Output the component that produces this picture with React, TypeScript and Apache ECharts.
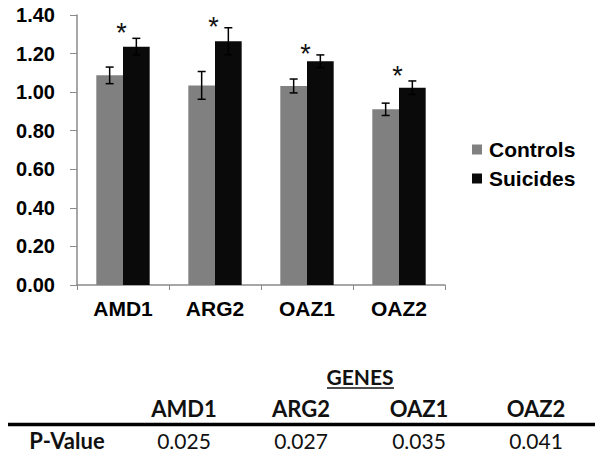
import React, { useEffect, useRef } from "react";
import * as echarts from "echarts";

const genes = ["AMD1", "ARG2", "OAZ1", "OAZ2"];
const controls = [1.087, 1.035, 1.032, 0.911];
const controlsErr = [0.043, 0.072, 0.036, 0.032];
const suicides = [1.236, 1.264, 1.16, 1.023];
const suicidesErr = [0.043, 0.07, 0.033, 0.035];
const starLevel = [1.343, 1.374, 1.236, 1.12];
const pValues = ["0.025", "0.027", "0.035", "0.041"];
const yTicks = [0, 0.2, 0.4, 0.6, 0.8, 1.0, 1.2, 1.4];

const CAT_GAP = 0.42;

export default function App() {
  const ref = useRef<HTMLDivElement>(null);
  useEffect(() => {
    if (!ref.current) return;
    const chart = echarts.init(ref.current, null, { renderer: "svg" });
    const axisColor = "#8a8a8a";
    const font = "'Liberation Sans', Arial, sans-serif";
    const tfont = "Lato, 'Open Sans', sans-serif";

    const errData = genes.map((g, i) => [i, controls[i], controlsErr[i], suicides[i], suicidesErr[i], starLevel[i]]);

    const headerX = [184, 301, 419, 536];
    const graphics: any[] = [];
    graphics.push({
      type: "text",
      x: 360,
      y: 376,
      style: { text: "GENES", font: `bold 21px ${tfont}`, fill: "#111", textAlign: "center", textVerticalAlign: "middle" },
    });
    graphics.push({
      type: "line",
      shape: { x1: 327, y1: 388, x2: 394, y2: 388 },
      style: { stroke: "#111", lineWidth: 1.5 },
    });
    genes.forEach((g, i) => {
      graphics.push({
        type: "text",
        x: headerX[i],
        y: 408,
        style: { text: g, font: `bold 22px ${tfont}`, fill: "#111", textAlign: "center", textVerticalAlign: "middle" },
      });
      graphics.push({
        type: "text",
        x: headerX[i],
        y: 440,
        style: { text: pValues[i], font: `21px ${tfont}`, fill: "#111", textAlign: "center", textVerticalAlign: "middle" },
      });
    });
    graphics.push({
      type: "line",
      shape: { x1: 8, y1: 424.5, x2: 595, y2: 424.5 },
      style: { stroke: "#000", lineWidth: 3.5 },
    });
    graphics.push({
      type: "text",
      x: 67,
      y: 440,
      style: { text: "P-Value", font: `bold 22px ${tfont}`, fill: "#111", textAlign: "center", textVerticalAlign: "middle" },
    });

    chart.setOption({
      animation: false,
      backgroundColor: "#fff",
      grid: { left: 77, right: 159, top: 15, bottom: 176 },
      legend: {
        orient: "vertical",
        left: 472,
        top: 139,
        padding: 0,
        itemWidth: 10,
        itemHeight: 10,
        itemGap: 8,
        icon: "rect",
        data: ["Controls", "Suicides"],
        textStyle: { fontFamily: font, fontWeight: "bold", fontSize: 21, color: "#000", padding: [0, 0, 0, 2] },
      },
      xAxis: {
        type: "category",
        data: genes,
        axisLine: { lineStyle: { color: axisColor, width: 1.5 } },
        axisTick: { show: true, length: 5, lineStyle: { color: axisColor } },
        axisLabel: { fontFamily: font, fontWeight: "bold", fontSize: 21, color: "#000", margin: 13 },
      },
      yAxis: {
        type: "value",
        min: 0,
        max: 1.4,
        interval: 0.2,
        splitLine: { show: false },
        axisLine: { show: true, lineStyle: { color: axisColor, width: 1.5 } },
        axisTick: { show: true, length: 7, lineStyle: { color: axisColor } },
        axisLabel: {
          fontFamily: font,
          fontWeight: "bold",
          fontSize: 20,
          color: "#000",
          margin: 22,
          formatter: (v: number) => (yTicks.some((t) => Math.abs(t - v) < 1e-9) ? v.toFixed(2) : ""),
        },
      },
      series: [
        {
          name: "Controls",
          type: "bar",
          data: controls,
          barGap: "0%",
          barCategoryGap: `${CAT_GAP * 100}%`,
          itemStyle: { color: "#808080" },
        },
        {
          name: "Suicides",
          type: "bar",
          data: suicides,
          barGap: "0%",
          barCategoryGap: `${CAT_GAP * 100}%`,
          itemStyle: { color: "#0a0a0a" },
        },
        {
          type: "custom",
          data: errData,
          z: 10,
          renderItem: (params: any, api: any) => {
            const idx = api.value(0);
            const catW = api.size([1, 0])[0];
            const barW = (catW * (1 - CAT_GAP)) / 2;
            const center = api.coord([idx, 0])[0];
            const children: any[] = [];
            const cap = 4;
            const mk = (x: number, v: number, e: number) => {
              const top = api.coord([idx, v + e])[1];
              const bot = api.coord([idx, v - e])[1];
              children.push({ type: "line", shape: { x1: x, y1: top, x2: x, y2: bot }, style: { stroke: "#000", lineWidth: 1.5 } });
              children.push({ type: "line", shape: { x1: x - cap, y1: top, x2: x + cap, y2: top }, style: { stroke: "#000", lineWidth: 1.5 } });
              children.push({ type: "line", shape: { x1: x - cap, y1: bot, x2: x + cap, y2: bot }, style: { stroke: "#000", lineWidth: 1.5 } });
            };
            mk(center - barW / 2, api.value(1), api.value(2));
            mk(center + barW / 2, api.value(3), api.value(4));
            const sy = api.coord([idx, api.value(5)])[1];
            children.push({
              type: "text",
              x: center - 1.5,
              y: sy + 7,
              style: { text: "*", font: `27px ${font}`, fill: "#111", textAlign: "center", textVerticalAlign: "middle" },
            });
            return { type: "group", children };
          },
        },
      ],
      graphic: graphics,
    });
    return () => chart.dispose();
  }, []);
  return <div ref={ref} style={{ position: "fixed", left: 0, top: 0, width: 604, height: 461 }} />;
}
